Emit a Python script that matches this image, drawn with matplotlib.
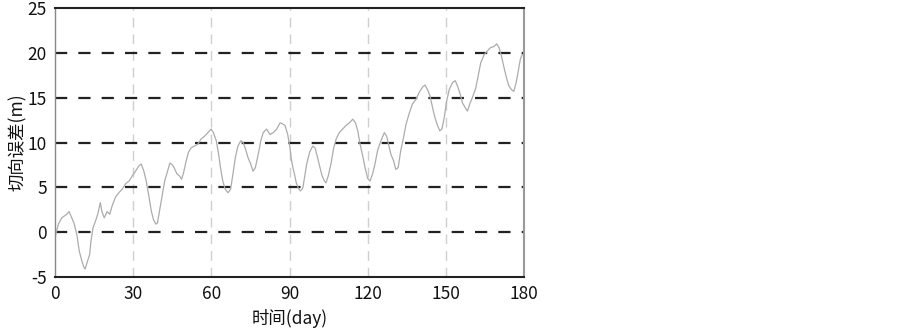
import matplotlib
matplotlib.use("Agg")
import matplotlib.pyplot as plt

plt.rcParams['font.family'] = ['Noto Sans CJK SC', 'DejaVu Sans']
plt.rcParams['axes.unicode_minus'] = False

days = [0, 1.3, 2.6, 4.5, 5.4, 6.4, 7.3, 8.4, 9.3, 10.3, 11.2, 11.6, 12.5, 13.3, 13.8,
        14.6, 15.5, 16.4, 17.4, 18, 18.9, 20, 21, 21.9, 23.2, 24.5, 25.8, 27.1, 28.4,
        29.7, 30.9, 32.2, 33.1, 34.1, 35, 36.1, 37, 37.8, 38.7, 39.3, 40.3, 41.2, 42.1,
        43.2, 44.1, 45.1, 45.7, 46.8, 47.7, 48.6, 49.4, 50.3, 51.2, 52.2, 53.5, 54.8,
        56.1, 57.4, 58.7, 59.9, 60.8, 61.9, 62.8, 63.5, 64.4, 65.3, 66.4, 67.4, 68.3,
        69.2, 70.2, 71.3, 72.2, 73.1, 74.1, 75.1, 76, 76.9, 78, 79, 79.9, 81.2, 82.5,
        83.8, 85.1, 86.4, 87.2, 88.3, 89.3, 90.2, 90.6, 91.3, 91.9, 92.6, 93.4, 94.2,
        95.1, 95.7, 96.6, 97.7, 98.9, 99.8, 100.8, 101.7, 102.5, 103.4, 104, 104.9,
        105.9, 106.9, 107.9, 109.1, 110.4, 111.7, 113, 114.3, 115.3, 116.2, 117.1,
        118.1, 119, 120, 120.9, 121.9, 122.8, 123.8, 125.1, 126.4, 127.3, 128, 128.9,
        129.9, 130.8, 131.7, 132.7, 133.8, 134.7, 136, 137.2, 138.5, 139.8, 141.1, 142,
        143, 143.9, 144.9, 145.8, 146.8, 147.7, 148.5, 149.4, 150.3, 151.3, 152.6,
        153.6, 154.5, 155.5, 156.4, 157.4, 158.3, 159.3, 160.2, 161.5, 162.5, 163.4,
        164.7, 165.9, 167.2, 168.5, 169.5, 170.4, 171.3, 172.3, 173.3, 174.2, 175.2,
        176.1, 177, 177.7, 178.6, 179.3]
error_m = [-0.6, 0.9, 1.6, 2.0, 2.3, 1.6, 1.0, -0.3, -2.1, -3.2, -4.0, -4.1, -3.2, -2.5, -1.0,
           0.5, 1.2, 2.0, 3.3, 2.3, 1.6, 2.3, 2.0, 2.9, 3.9, 4.4, 4.8, 5.4, 5.7,
           6.3, 6.8, 7.4, 7.6, 6.8, 5.7, 3.9, 2.3, 1.4, 0.9, 1.0, 2.7, 4.2, 5.7,
           6.8, 7.7, 7.5, 7.2, 6.5, 6.3, 5.9, 6.7, 7.9, 8.9, 9.4, 9.6, 9.8,
           10.4, 10.7, 11.1, 11.5, 11.1, 10.2, 8.7, 7.2, 5.7, 4.8, 4.4, 4.8, 6.5,
           8.3, 9.6, 10.2, 10.0, 9.3, 8.3, 7.6, 6.8, 7.2, 8.7, 10.2, 11.1, 11.5, 10.9,
           11.1, 11.5, 12.2, 12.1, 11.9, 10.9, 9.4, 8.3, 7.2, 6.5, 5.5, 4.9, 4.6,
           4.9, 6.0, 7.6, 8.9, 9.6, 9.4, 8.3, 7.2, 6.3, 5.7, 5.5, 6.3,
           7.6, 9.3, 10.4, 11.1, 11.5, 11.9, 12.2, 12.6, 12.2, 11.3, 9.8,
           8.5, 7.2, 6.0, 5.7, 6.5, 7.6, 9.1, 10.2, 11.1, 10.7, 9.8, 8.7,
           8.0, 7.0, 7.2, 9.1, 10.6, 12.0, 13.3, 14.3, 14.8, 15.6, 16.2, 16.4,
           15.9, 15.2, 13.9, 12.8, 11.9, 11.3, 11.5, 12.8, 14.6, 15.9, 16.7,
           16.9, 16.3, 15.4, 14.4, 13.9, 13.5, 14.4, 15.0, 16.1, 17.6, 18.9,
           19.8, 20.2, 20.6, 20.7, 21.0, 20.6, 19.7, 18.4, 17.2, 16.3, 15.9,
           15.7, 16.7, 17.8, 19.3, 19.8]
xticks = [0, 30, 60, 90, 120, 150, 180]
yticks = [-5, 0, 5, 10, 15, 20, 25]
hgrid = [0, 5, 10, 15, 20]
vgrid = [30, 60, 90, 120, 150]

fig = plt.figure(figsize=(9.03, 3.28), dpi=100)
ax = fig.add_axes([55/903, 1-277/328, (524-55)/903, (277-8)/328])

for v in vgrid:
    ax.axvline(v, color='#cfcfcf', lw=1.0, dashes=(7, 5), zorder=1)
for h in hgrid:
    ax.axhline(h, color='#222222', lw=1.6, dashes=(5.5, 5), zorder=1)

ax.plot(days, error_m, color='#acacac', lw=0.9, zorder=2)

ax.set_xlim(0, 180)
ax.set_ylim(-5, 25)
ax.set_xticks(xticks)
ax.set_yticks(yticks)
ax.tick_params(length=0, labelsize=12.5, pad=6, labelcolor='#111111')
ax.set_xlabel('时间(day)', fontsize=12.5, labelpad=4, color='#111111')
ax.set_ylabel('切向误差(m)', fontsize=12.5, labelpad=0, color='#111111')

ax.spines['top'].set_color('#222222')
ax.spines['top'].set_linewidth(1.5)
ax.spines['bottom'].set_color('#222222')
ax.spines['bottom'].set_linewidth(1.5)
ax.spines['left'].set_color('#888888')
ax.spines['left'].set_linewidth(1.0)
ax.spines['right'].set_color('#999999')
ax.spines['right'].set_linewidth(1.5)

fig.savefig('out.png', dpi=100)
